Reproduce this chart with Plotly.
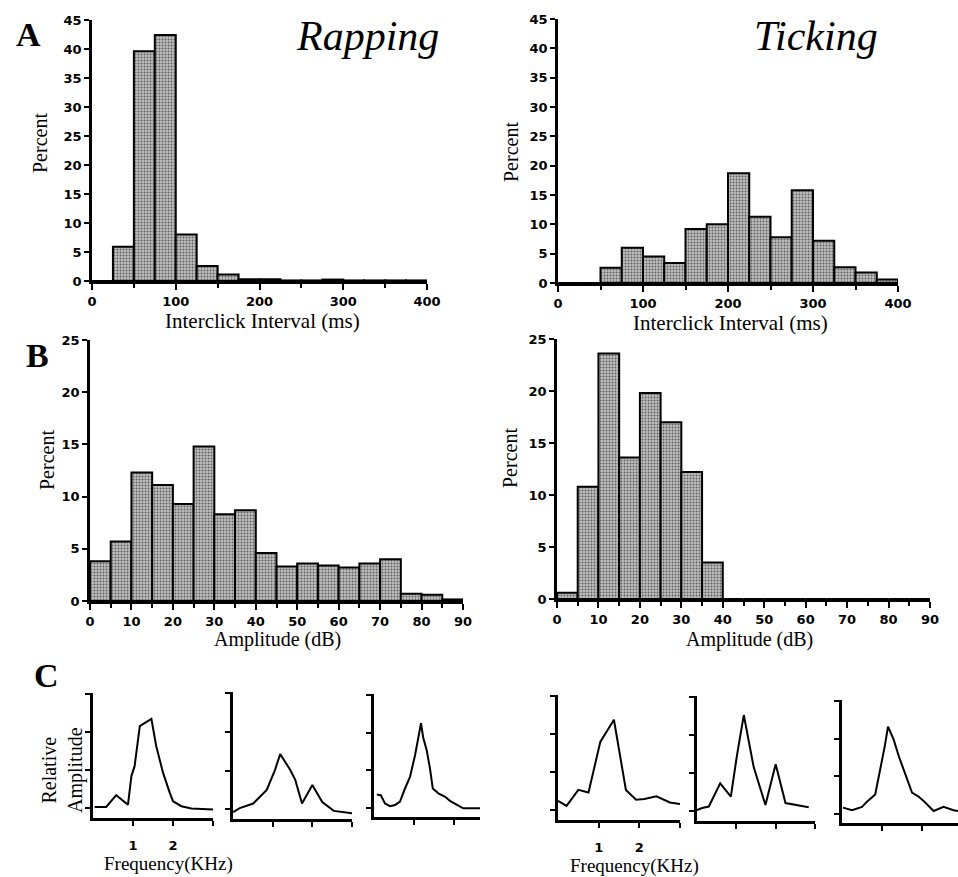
import plotly.graph_objects as go

W, H = 958, 877

# ---------------- data ----------------
interval_edges = list(range(0, 400, 25))          # left edges of 25-ms bins
rapping_interval_pct = [0, 5.9, 39.6, 42.4, 8.0, 2.6, 1.1, 0.3, 0.3, 0.1, 0.1, 0.25, 0.1, 0.1, 0.1, 0.1]
ticking_interval_pct = [0, 0, 2.6, 6.0, 4.5, 3.4, 9.2, 10.0, 18.7, 11.3, 7.8, 15.8, 7.2, 2.7, 1.8, 0.6]

amp_edges = list(range(0, 90, 5))                 # left edges of 5-dB bins
rapping_amp_pct = [3.8, 5.7, 12.3, 11.1, 9.3, 14.8, 8.3, 8.7, 4.6, 3.3, 3.6, 3.4, 3.2, 3.6, 4.0, 0.7, 0.6, 0.15]
ticking_amp_pct = [0.6, 10.8, 23.6, 13.6, 19.8, 17.0, 12.2, 3.5, 0, 0, 0, 0, 0, 0, 0, 0, 0, 0]

interval_ticks = [0, 100, 200, 300, 400]
amp_ticks = [0, 10, 20, 30, 40, 50, 60, 70, 80, 90]

# spectra (kHz, relative amplitude)
spec1_f = [0.04, 0.33, 0.58, 0.875, 0.96, 1.04, 1.17, 1.46, 1.58, 1.75, 1.92, 2.0, 2.21, 2.46, 3.0]
spec1_a = [0.04, 0.04, 0.35, 0.10, 0.85, 1.11, 2.16, 2.35, 1.64, 0.94, 0.41, 0.19, 0.06, 0.0, -0.03]
spec2_f = [0.0, 0.17, 0.51, 0.85, 1.06, 1.19, 1.44, 1.57, 1.74, 2.0, 2.25, 2.54, 3.0]
spec2_a = [-0.07, 0.03, 0.15, 0.50, 1.02, 1.43, 1.02, 0.76, 0.15, 0.63, 0.19, -0.04, -0.10]
spec3_f = [0.07, 0.17, 0.275, 0.4, 0.525, 0.65, 0.775, 0.9, 1.025, 1.11, 1.175, 1.23, 1.32, 1.4, 1.47, 1.61, 1.78, 1.9, 2.07, 2.23, 2.65]
spec3_a = [0.35, 0.33, 0.11, 0.04, 0.07, 0.16, 0.51, 0.82, 1.39, 1.91, 2.25, 1.87, 1.52, 1.04, 0.51, 0.38, 0.29, 0.18, 0.07, -0.02, -0.02]
spec4_f = [0.0, 0.21, 0.5, 0.75, 1.04, 1.375, 1.67, 1.92, 2.125, 2.42, 2.75, 3.0]
spec4_a = [0.25, 0.12, 0.54, 0.47, 1.80, 2.38, 0.54, 0.28, 0.30, 0.37, 0.21, 0.17]
spec5_f = [0.0, 0.13, 0.30, 0.59, 0.86, 1.02, 1.19, 1.44, 1.74, 2.0, 2.25, 2.54, 2.84]
spec5_a = [0.04, 0.09, 0.13, 0.74, 0.39, 1.5, 2.53, 1.17, 0.17, 1.24, 0.22, 0.17, 0.11]
spec6_f = [0.025, 0.25, 0.5, 0.625, 0.83, 0.96, 1.07, 1.15, 1.29, 1.42, 1.58, 1.75, 1.92, 2.04, 2.29, 2.54, 2.79, 2.9]
spec6_a = [0.16, 0.09, 0.18, 0.32, 0.51, 1.17, 1.80, 2.32, 1.98, 1.53, 1.04, 0.56, 0.45, 0.34, 0.07, 0.18, 0.09, 0.07]

# ---------------- styling helpers ----------------
TICKFONT = dict(family="DejaVu Sans", size=13, color="black", weight="bold")
SERIF = "Liberation Serif"


def xd(a, b):
    return [a / W, b / W]


def yd(top, bottom):
    return [1 - bottom / H, 1 - top / H]


fig = go.Figure()
layout = dict(width=W, height=H, margin=dict(l=0, r=0, t=0, b=0, pad=0, autoexpand=False),
              paper_bgcolor="white", plot_bgcolor="white", showlegend=False,
              annotations=[])

bar_marker = dict(color="#b4b4b4",
                  pattern=dict(shape=".", fgcolor="black", bgcolor="#c0c0c0", size=3, solidity=0.35),
                  line=dict(color="black", width=2))


def hist_panel(idx, edges, vals, width, xmax, ymax, ticks, minor_dtick,
               xdom, ydom):
    xa, ya = f"x{idx}", f"y{idx}"
    fig.add_trace(go.Bar(x=edges, y=vals, width=width, offset=0, marker=bar_marker,
                         xaxis=xa, yaxis=ya, hoverinfo="skip"))
    layout[f"xaxis{idx}"] = dict(domain=xd(*xdom), range=[0, xmax], anchor=ya, automargin=False,
                                 showline=True, linecolor="black", linewidth=2.5,
                                 ticks="outside", ticklen=6, tickwidth=2, tickcolor="black",
                                 tickvals=ticks, tickfont=TICKFONT, ticklabelstandoff=1,
                                 showgrid=False, zeroline=False,
                                 minor=dict(ticks="outside", ticklen=4, tickwidth=2, tickcolor="black",
                                            dtick=minor_dtick, tick0=0, showgrid=False),
                                 fixedrange=True)
    layout[f"yaxis{idx}"] = dict(domain=yd(*ydom), range=[0, ymax], anchor=xa, automargin=False,
                                 showline=True, linecolor="black", linewidth=2.5,
                                 ticks="outside", ticklen=5, tickwidth=2, tickcolor="black",
                                 dtick=5, tick0=0, tickfont=TICKFONT, showgrid=False, zeroline=False,
                                 fixedrange=True)


hist_panel(1, interval_edges, rapping_interval_pct, 25, 400, 45, interval_ticks, 50, (92, 427), (20, 281))
hist_panel(2, interval_edges, ticking_interval_pct, 25, 400, 45, interval_ticks, 50, (558, 898), (19, 283))
hist_panel(3, amp_edges, rapping_amp_pct, 5, 90, 25, amp_ticks, 5, (90, 463), (340, 601))
hist_panel(4, amp_edges, ticking_amp_pct, 5, 90, 25, amp_ticks, 5, (557, 930), (339, 599))


def spec_panel(idx, f, a, xmax, xdom, ydom, labels):
    xa, ya = f"x{idx}", f"y{idx}"
    fig.add_trace(go.Scatter(x=f, y=a, mode="lines", line=dict(color="black", width=2),
                             xaxis=xa, yaxis=ya, hoverinfo="skip"))
    layout[f"xaxis{idx}"] = dict(domain=xd(*xdom), range=[0, xmax], anchor=ya, automargin=False,
                                 showline=True, linecolor="black", linewidth=2.5,
                                 ticks="outside", ticklen=5, tickwidth=2, tickcolor="black",
                                 tickvals=[1, 2, 3], ticktext=(["1", "2", ""] if labels else ["", "", ""]),
                                 ticklabelstandoff=9,
                                 tickfont=TICKFONT, showgrid=False, zeroline=False, fixedrange=True)
    layout[f"yaxis{idx}"] = dict(domain=yd(*ydom), range=[-0.25, 3.03], anchor=xa, automargin=False,
                                 showline=True, linecolor="black", linewidth=2.5,
                                 ticks="outside", ticklen=5, tickwidth=2, tickcolor="black",
                                 tickvals=[0, 1, 2, 3], showticklabels=False,
                                 showgrid=False, zeroline=False, fixedrange=True)


spec_panel(5, spec1_f, spec1_a, 3.0, (93, 213), (693, 818), True)
spec_panel(6, spec2_f, spec2_a, 3.0, (233, 352), (692, 819), False)
spec_panel(7, spec3_f, spec3_a, 2.65, (374, 480), (694, 817), False)
spec_panel(8, spec4_f, spec4_a, 3.0, (558, 680), (695, 820), True)
spec_panel(9, spec5_f, spec5_a, 3.0, (697, 815), (696, 821), False)
spec_panel(10, spec6_f, spec6_a, 2.9, (842, 958), (700, 823), False)


def text(s, x, y, size, family=SERIF, bold=False, italic=False, angle=0):
    if bold:
        s = f"<b>{s}</b>"
    if italic:
        s = f"<i>{s}</i>"
    layout["annotations"].append(dict(text=s, x=x / W, y=1 - y / H, xref="paper", yref="paper",
                                      xanchor="center", yanchor="middle", showarrow=False,
                                      textangle=angle,
                                      font=dict(family=family, size=size, color="black")))


# panel letters
text("A", 28, 34, 34, bold=True)
text("B", 37, 355, 34, bold=True)
text("C", 46, 675, 34, bold=True)

# titles
text("Rapping", 367, 36, 42, italic=True)
text("Ticking", 816, 36, 42, italic=True)

# axis titles
text("Percent", 40, 143, 20, angle=-90)
text("Percent", 511, 152, 20, angle=-90)
text("Percent", 47, 460, 20, angle=-90)
text("Percent", 510, 458, 20, angle=-90)
text("Interclick Interval (ms)", 262, 321, 21)
text("Interclick Interval (ms)", 730, 323, 21)
text("Amplitude (dB)", 277, 639, 20)
text("Amplitude (dB)", 749, 639, 20)
text("Relative<br>Amplitude", 62, 770, 20, angle=-90)
text("Frequency(KHz)", 168, 864, 19)
text("Frequency(KHz)", 634, 866, 19)

fig.update_layout(**layout)
fig.write_html("out.html", config={"displayModeBar": False},
               post_script="document.body.style.margin='0';document.body.style.padding='0';")
